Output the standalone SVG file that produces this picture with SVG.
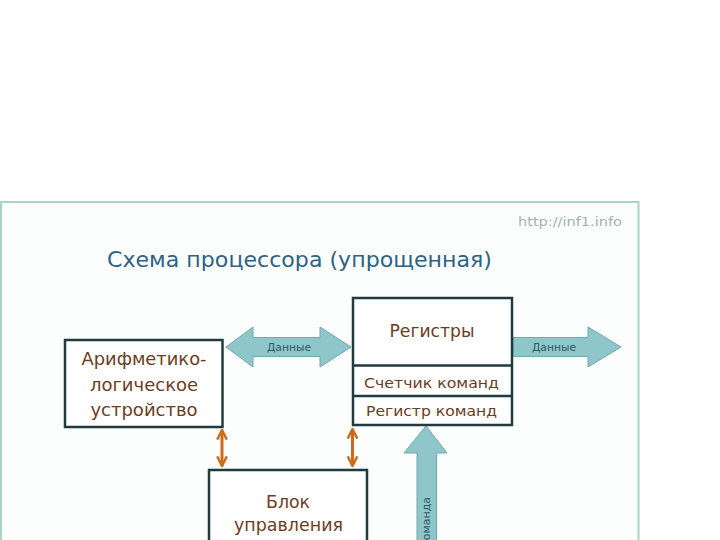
<svg xmlns="http://www.w3.org/2000/svg" width="720" height="540" viewBox="0 0 720 540">
<defs>
<style>
.box{fill:#ffffff;stroke:#1f3b3d;stroke-width:2.5}
.lbl{font-family:"DejaVu Sans","Liberation Sans",sans-serif;fill:#6b3d1e;text-anchor:middle}
.big{font-size:18px}
.mid{font-size:14px}
.arr{fill:#8fc6c9;stroke:#6ea9ae;stroke-width:1}
.dat{font-family:"DejaVu Sans","Liberation Sans",sans-serif;font-size:10px;fill:#2e5a60;text-anchor:middle}
.ctl{stroke:#cf6a1c;stroke-width:3;fill:none}
</style>
<marker id="oh" viewBox="0 0 10 10" refX="9" refY="5" markerWidth="4" markerHeight="4" orient="auto-start-reverse" markerUnits="strokeWidth">
<polyline points="1,1 9,5 1,9" fill="none" stroke="#cf6a1c" stroke-width="2"/>
</marker>
</defs>
<rect x="0" y="0" width="720" height="540" fill="#ffffff"/>
<rect x="1" y="202" width="637.5" height="345" fill="#fbfefd" stroke="#a6d3ca" stroke-width="2"/>
<text x="622" y="226" font-family="DejaVu Sans,'Liberation Sans',sans-serif" font-size="12" fill="#a4b1b3" text-anchor="end" textLength="104" lengthAdjust="spacingAndGlyphs">http://inf1.info</text>
<text x="107" y="267" font-family="DejaVu Sans,'Liberation Sans',sans-serif" font-size="21" fill="#2d6384" textLength="385" lengthAdjust="spacingAndGlyphs">Схема процессора (упрощенная)</text>

<g id="connectors">
<polygon class="arr" points="226,347 253,327 253,337.5 320,337.5 320,327 351,347 320,367 320,356.5 253,356.5 253,367"/>
<text class="dat" x="289" y="351" textLength="44" lengthAdjust="spacingAndGlyphs">Данные</text>
<polygon class="arr" points="513,337.5 588,337.5 588,327 621,347 588,367 588,356.5 513,356.5"/>
<text class="dat" x="554" y="351" textLength="44" lengthAdjust="spacingAndGlyphs">Данные</text>
<polygon class="arr" points="426,426 447,453 436.5,453 436.5,545 417,545 417,453 404,453"/>
<text class="dat" transform="translate(430,497) rotate(-90)" x="0" y="0" style="text-anchor:end;font-size:11px">Команда</text>
<line class="ctl" x1="222" y1="430" x2="222" y2="466" marker-start="url(#oh)" marker-end="url(#oh)"/>
<line class="ctl" x1="352.5" y1="429" x2="352.5" y2="466" marker-start="url(#oh)" marker-end="url(#oh)"/>
</g>

<g id="alu">
<rect class="box" x="65" y="340" width="157.5" height="87"/>
<text class="lbl big" x="144" y="365" textLength="125" lengthAdjust="spacingAndGlyphs">Арифметико-</text>
<text class="lbl big" x="144" y="391">логическое</text>
<text class="lbl big" x="144" y="416">устройство</text>
</g>

<g id="registers">
<rect class="box" x="353" y="298" width="159" height="127"/>
<line x1="353" y1="365.5" x2="512" y2="365.5" stroke="#1f3b3d" stroke-width="2.5"/>
<line x1="353" y1="396" x2="512" y2="396" stroke="#1f3b3d" stroke-width="2.5"/>
<text class="lbl big" x="432" y="337" textLength="85" lengthAdjust="spacingAndGlyphs">Регистры</text>
<text class="lbl mid" x="431.5" y="388" textLength="135" lengthAdjust="spacingAndGlyphs">Счетчик команд</text>
<text class="lbl mid" x="431.5" y="416" textLength="131" lengthAdjust="spacingAndGlyphs">Регистр команд</text>
</g>

<g id="control">
<rect class="box" x="209" y="470" width="158" height="90"/>
<text class="lbl big" x="288" y="508" textLength="44" lengthAdjust="spacingAndGlyphs">Блок</text>
<text class="lbl big" x="288.5" y="531" textLength="109" lengthAdjust="spacingAndGlyphs">управления</text>
</g>
</svg>
